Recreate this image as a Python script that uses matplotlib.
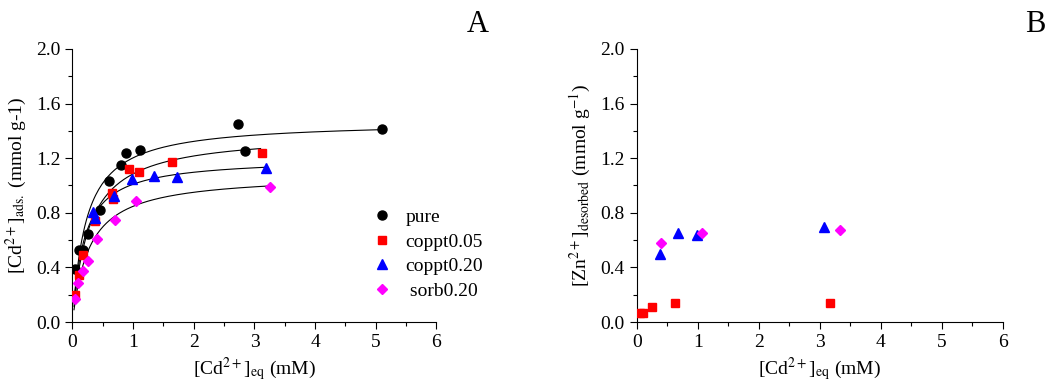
import matplotlib
matplotlib.use("Agg")
import matplotlib.pyplot as plt
import numpy as np
from matplotlib.ticker import MultipleLocator

plt.rcParams["font.family"] = ["Liberation Serif", "DejaVu Serif"]
plt.rcParams["mathtext.fontset"] = "stix"

# Panel A: Cd adsorption isotherms
pure_x = [0.044, 0.10, 0.18, 0.26, 0.45, 0.61, 0.80, 0.88, 1.11, 2.73, 2.85, 5.10]
pure_y = [0.388, 0.527, 0.527, 0.645, 0.818, 1.033, 1.150, 1.240, 1.258, 1.450, 1.255, 1.414]

c005_x = [0.044, 0.10, 0.17, 0.37, 0.645, 0.67, 0.934, 1.093, 1.645, 3.12]
c005_y = [0.198, 0.344, 0.490, 0.740, 0.943, 0.899, 1.118, 1.101, 1.170, 1.240]

c020_x = [0.344, 0.37, 0.69, 0.984, 1.34, 1.72, 3.19]
c020_y = [0.808, 0.760, 0.920, 1.050, 1.070, 1.065, 1.125]

sorb_x = [0.044, 0.098, 0.18, 0.26, 0.41, 0.70, 1.055, 3.25]
sorb_y = [0.166, 0.288, 0.374, 0.447, 0.606, 0.747, 0.886, 0.991]

# Langmuir fit parameters (qmax, K, x end)
fits = {
    "pure": (1.47, 4.5, 5.10),
    "coppt0.05": (1.383, 3.64, 3.10),
    "coppt0.20": (1.201, 5.26, 3.20),
    "sorb0.20": (1.081, 3.63, 3.25),
}

# Panel B: Zn desorbed
zn_c005_x = [0.055, 0.10, 0.254, 0.63, 3.17]
zn_c005_y = [0.063, 0.063, 0.112, 0.137, 0.141]
zn_c020_x = [0.376, 0.674, 0.983, 3.07]
zn_c020_y = [0.498, 0.654, 0.637, 0.698]
zn_sorb_x = [0.40, 1.066, 3.34]
zn_sorb_y = [0.580, 0.654, 0.674]

fig = plt.figure(figsize=(10.46, 3.82), dpi=100)
axA = fig.add_axes([0.0693, 0.157, 0.348, 0.715])
axB = fig.add_axes([0.6087, 0.157, 0.350, 0.715])

for ax in (axA, axB):
    ax.set_xlim(0, 6)
    ax.set_ylim(0, 2.0)
    ax.xaxis.set_major_locator(MultipleLocator(1))
    ax.xaxis.set_minor_locator(MultipleLocator(0.5))
    ax.yaxis.set_minor_locator(MultipleLocator(0.2))
    ax.spines["top"].set_visible(False)
    ax.spines["right"].set_visible(False)
    ax.tick_params(which="major", direction="out", length=5, width=0.8, labelsize=14)
    ax.tick_params(which="minor", direction="out", length=3, width=0.8)
    ax.set_yticks(np.arange(0, 2.01, 0.4))
    ax.set_yticklabels(["%.1f" % v for v in np.arange(0, 2.01, 0.4)])

# fitted curves
for name, (qm, k, xend) in fits.items():
    xx = np.linspace(0.025, xend, 200)
    axA.plot(xx, qm * k * xx / (1 + k * xx), color="black", lw=0.8, zorder=1)

axA.plot(pure_x, pure_y, "o", color="black", ms=6.5, ls="none", label="pure", zorder=3)
axA.plot(c005_x, c005_y, "s", color="red", ms=5.5, ls="none", label="coppt0.05", zorder=3)
axA.plot(c020_x, c020_y, "^", color="blue", ms=7, ls="none", label="coppt0.20", zorder=3)
axA.plot(sorb_x, sorb_y, "D", color="magenta", ms=5.5, ls="none", label=" sorb0.20", zorder=3)

axA.legend(frameon=False, loc="upper left", bbox_to_anchor=(0.77, 0.48),
           fontsize=14, handlelength=1.2, handletextpad=0.6, labelspacing=0.36)

axA.set_xlabel(r"[Cd$^{2+}$]$_{\mathrm{eq}}$ (mM)", fontsize=14, labelpad=3)
axA.set_ylabel(r"[Cd$^{2+}$]$_{\mathrm{ads.}}$ (mmol g-1)", fontsize=14, labelpad=5)

axB.plot(zn_c005_x, zn_c005_y, "s", color="red", ms=5.5, ls="none", zorder=3)
axB.plot(zn_c020_x, zn_c020_y, "^", color="blue", ms=7, ls="none", zorder=3)
axB.plot(zn_sorb_x, zn_sorb_y, "D", color="magenta", ms=5.5, ls="none", zorder=3)

axB.set_xlabel(r"[Cd$^{2+}$]$_{\mathrm{eq}}$ (mM)", fontsize=14, labelpad=3)
axB.set_ylabel(r"[Zn$^{2+}$]$_{\mathrm{desorbed}}$ (mmol g$^{-1}$)", fontsize=14, labelpad=5)

fig.text(478 / 1046, 1 - 25 / 382, "A", fontsize=22, ha="center", va="center")
fig.text(1035 / 1046, 1 - 25 / 382, "B", fontsize=22, ha="center", va="center")

fig.savefig("out.png", dpi=100)
